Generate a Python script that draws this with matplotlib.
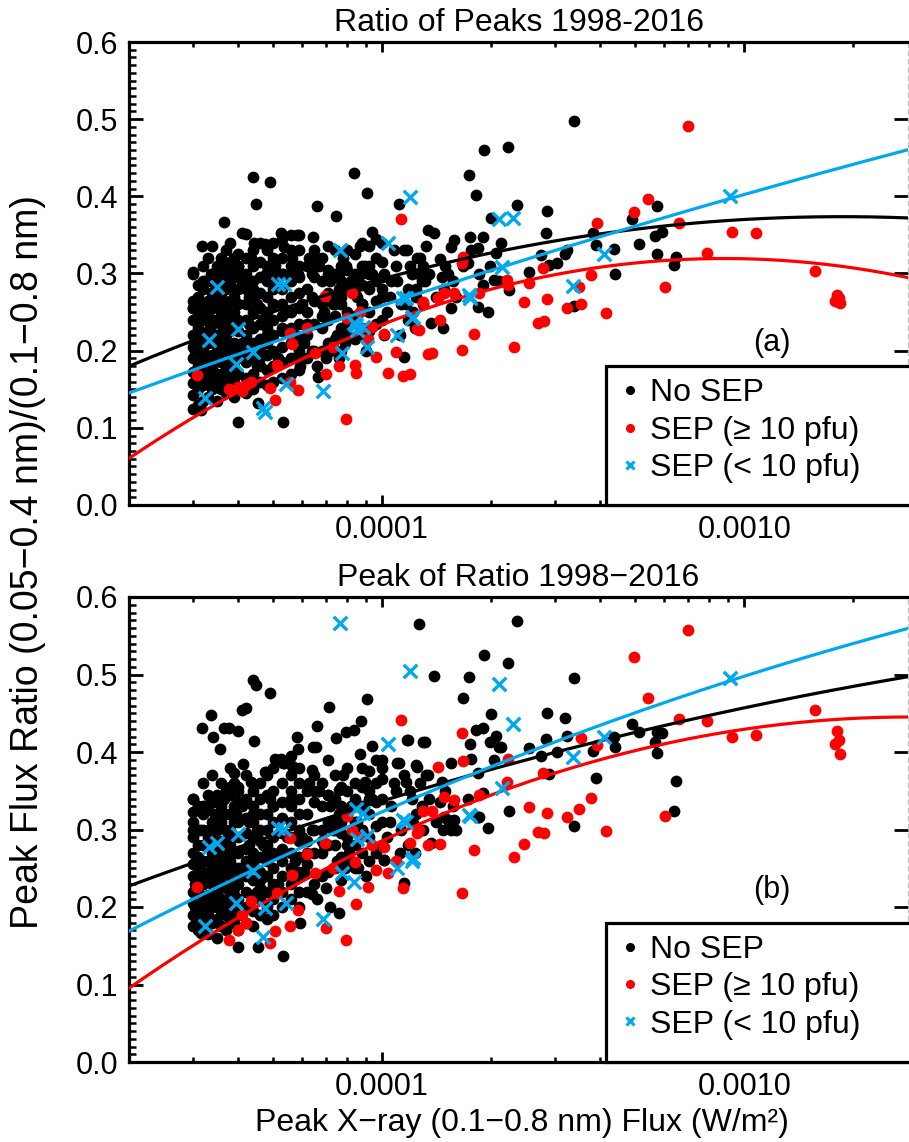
import numpy as np
import matplotlib
matplotlib.use("Agg")
import matplotlib.pyplot as plt
from matplotlib.lines import Line2D
from matplotlib.patches import Rectangle
from matplotlib.ticker import (FixedLocator, LogLocator, MultipleLocator,
                               FuncFormatter, NullFormatter)

plt.rcParams["font.family"] = ["Liberation Sans", "DejaVu Sans"]

BLACK = "black"
RED = "#ff0000"
BLUE = "#00a8f0"

# Peak X-ray flux in units of 1e-5 W/m^2, shared by both panels (same flares)
nosep_flux = [
    3.0, 3.0, 3.0, 3.0, 3.0, 3.0, 3.0, 3.0, 3.0, 3.0,
    3.1, 3.1, 3.1, 3.1, 3.1, 3.1, 3.1, 3.1, 3.1, 3.1,
    3.2, 3.2, 3.2, 3.2, 3.2, 3.2, 3.2, 3.2, 3.2, 3.2,
    3.3, 3.3, 3.3, 3.3, 3.3, 3.3, 3.3, 3.3, 3.3, 3.3,
    3.4, 3.4, 3.4, 3.4, 3.4, 3.4, 3.4, 3.4, 3.4, 3.4,
    3.5, 3.5, 3.5, 3.5, 3.5, 3.5, 3.5, 3.5, 3.5, 3.5,
    3.6, 3.6, 3.6, 3.6, 3.6, 3.6, 3.6, 3.6, 3.6, 3.6,
    3.7, 3.7, 3.7, 3.7, 3.7, 3.7, 3.7, 3.7, 3.7, 3.7,
    3.8, 3.8, 3.8, 3.8, 3.8, 3.8, 3.8, 3.8, 3.8, 3.8,
    3.9, 3.9, 3.9, 3.9, 3.9, 3.9, 3.9, 3.9, 3.9, 3.9,
    4.0, 4.0, 4.0, 4.0, 4.0, 4.0, 4.0, 4.0, 4.0, 4.0,
    4.2, 4.2, 4.2, 4.2, 4.2, 4.2, 4.2, 4.2, 4.2, 4.2,
    4.4, 4.4, 4.4, 4.4, 4.4, 4.4, 4.4, 4.4, 4.4, 4.4,
    4.6, 4.6, 4.6, 4.6, 4.6, 4.6, 4.6, 4.6, 4.6, 4.6,
    4.8, 4.8, 4.8, 4.8, 4.8, 4.8, 4.8, 4.8, 4.8, 4.8,
    5.0, 5.0, 5.0, 5.0, 5.0, 5.0, 5.0, 5.0, 5.0, 5.0,
    5.3, 5.3, 5.3, 5.3, 5.3, 5.3, 5.3, 5.3, 5.3, 5.3,
    5.6, 5.6, 5.6, 5.6, 5.6, 5.6, 5.6, 5.6, 5.6, 5.6,
    5.9, 5.9, 5.9, 5.9, 5.9, 5.9, 5.9, 5.9, 5.9, 5.9,
    6.2, 6.2, 6.2, 6.2, 6.2, 6.5, 6.5, 6.5, 6.5, 6.5,
    6.8, 6.8, 6.8, 6.8, 6.8, 7.1, 7.1, 7.1, 7.1, 7.1,
    7.4, 7.4, 7.4, 7.4, 7.4, 7.7, 7.7, 7.7, 7.7, 7.7,
    8.0, 8.0, 8.0, 8.0, 8.0, 8.4, 8.4, 8.4, 8.4, 8.4,
    8.8, 8.8, 8.8, 8.8, 8.8, 9.2, 9.2, 9.2, 9.2, 9.2,
    9.6, 9.6, 9.6, 9.6, 9.6, 10.0, 10.0, 10.0, 10.0, 10.0,
    6.0, 6.3, 6.6, 6.9, 7.2, 7.5, 7.8, 8.1, 8.5, 9.0,
    6.1, 6.4, 6.7, 7.0, 7.3, 7.6, 7.9, 8.2, 8.6, 9.4,
    10.3, 10.6, 10.9, 11.2, 11.5, 11.8, 12.1, 12.4, 12.7, 13.0,
    10.5, 10.8, 11.3, 11.9, 12.3, 12.9, 13.5, 14.1, 14.9, 15.7,
    3.05, 3.15, 3.25, 3.35, 3.45, 3.55, 3.65, 3.75, 3.85, 3.95,
    3.05, 3.15, 3.25, 3.35, 3.45, 3.55, 3.65, 3.75, 3.85, 3.95,
    4.1, 4.3, 4.5, 4.7, 4.9, 5.15, 5.45, 5.75, 4.1, 4.5,
    3.0, 3.1, 3.2, 3.3, 3.4, 3.5, 3.6, 3.7, 3.8, 3.9,
    4.0, 4.2, 4.4, 4.6, 4.8, 5.0, 5.3, 5.6, 5.9, 4.3,
    6.2, 6.5, 6.8, 7.1, 7.4, 7.7, 8.0, 8.4, 8.8, 9.2,
    33.8, 19.1, 22.2, 17.4, 18.2, 23.5, 28.6, 20.0, 57.3, 49.1,
    13.4, 13.9, 28.3, 38.1, 59.4, 56.5, 51.1, 43.6, 38.9, 57.5,
    64.6, 64.1, 31.9, 30.3, 27.4, 28.8, 25.4, 21.3, 20.6, 17.5,
    19.0, 15.8, 15.5, 14.4, 17.6, 18.4, 17.3, 15.2, 14.6, 19.0,
    20.4, 22.4, 18.4, 19.6, 15.5, 14.7, 13.6, 33.8, 11.5, 12.6,
    16.7, 43.9, 32.3, 11.8, 13.1, 12.4, 11.6, 12.2, 16.0, 11.1,
    10.1, 12.5, 13.0, 11.7, 14.8, 19.8, 21.0, 18.5, 13.2, 4.39,
    4.91, 4.47, 3.65, 8.38, 9.09, 6.62, 7.47, 4.11, 4.22, 3.19,
    5.24, 5.83, 6.46, 4.44, 4.76, 5.37, 9.38, 8.70, 7.14, 3.36,
    3.41, 3.56, 3.77, 3.99, 5.87, 6.58, 7.96, 8.75, 10.0, 11.0,
    5.07, 5.34, 5.65, 6.42, 4.79, 4.14, 3.91, 4.33, 8.98, 7.62,
    6.67, 3.01, 3.99, 5.31, 4.53, 3.17, 5.94, 7.62, 7.19, 6.42,
    10.1, 3.01,
]
# (a) ratio of peaks
nosep_ratio_peaks = [
    .125, .142, .158, .172, .19, .205, .22, .24, .255, .30,
    .13, .15, .165, .18, .198, .215, .23, .25, .27, .285,
    .135, .155, .17, .185, .20, .22, .24, .26, .28, .31,
    .14, .16, .175, .19, .21, .225, .245, .265, .29, .32,
    .15, .165, .18, .195, .215, .235, .255, .275, .30, .335,
    .135, .155, .17, .19, .205, .22, .24, .26, .28, .31,
    .15, .17, .185, .20, .215, .235, .25, .27, .29, .32,
    .145, .16, .18, .20, .22, .24, .26, .28, .30, .33,
    .15, .165, .185, .205, .225, .245, .265, .285, .305, .34,
    .14, .16, .175, .195, .21, .23, .25, .27, .295, .32,
    .15, .17, .19, .205, .225, .24, .26, .28, .30, .325,
    .145, .165, .185, .20, .22, .24, .26, .28, .30, .32,
    .15, .17, .19, .21, .23, .25, .27, .29, .31, .33,
    .16, .18, .20, .215, .235, .255, .275, .295, .315, .34,
    .155, .175, .195, .21, .23, .25, .27, .29, .31, .33,
    .16, .18, .20, .22, .24, .26, .28, .30, .32, .34,
    .165, .185, .205, .225, .245, .26, .28, .30, .32, .345,
    .17, .19, .21, .23, .25, .27, .29, .31, .33, .35,
    .175, .195, .215, .235, .255, .275, .295, .31, .33, .35,
    .19, .22, .25, .28, .31, .20, .235, .265, .295, .33,
    .20, .23, .26, .29, .32, .21, .24, .275, .305, .335,
    .215, .245, .27, .30, .33, .20, .23, .26, .29, .31,
    .22, .25, .28, .305, .33, .215, .245, .275, .30, .325,
    .23, .26, .285, .31, .34, .225, .25, .28, .31, .335,
    .235, .265, .29, .32, .345, .24, .27, .295, .315, .34,
    .26, .32, .18, .25, .29, .22, .32, .24, .27, .20,
    .21, .27, .31, .19, .26, .28, .21, .29, .22, .30,
    .25, .29, .31, .22, .33, .24, .30, .28, .32, .26,
    .27, .33, .26, .31, .23, .29, .30, .27, .31, .29,
    .20, .26, .18, .23, .28, .16, .21, .25, .19, .28,
    .16, .22, .29, .17, .24, .27, .30, .17, .23, .20,
    .21, .27, .18, .24, .30, .19, .25, .22, .29, .26,
    .265, .205, .29, .25, .175, .30, .205, .235, .315, .185,
    .31, .21, .28, .19, .22, .29, .23, .30, .20, .235,
    .235, .31, .245, .30, .26, .27, .235, .29, .26, .30,
    .498, .46, .464, .428, .402, .389, .381, .372, .387, .371,
    .356, .352, .352, .352, .354, .349, .338, .332, .337, .325,
    .321, .311, .325, .314, .324, .311, .302, .34, .326, .347,
    .347, .343, .334, .319, .33, .333, .313, .30, .296, .285,
    .291, .279, .257, .25, .255, .229, .236, .258, .192, .30,
    .31, .30, .33, .28, .29, .27, .26, .25, .27, .39,
    .30, .32, .31, .33, .28, .31, .29, .30, .335, .425,
    .419, .39, .367, .43, .404, .387, .374, .352, .351, .336,
    .352, .35, .347, .34, .338, .334, .354, .335, .30, .30,
    .29, .31, .29, .31, .30, .32, .31, .30, .28, .29,
    .31, .30, .32, .30, .30, .30, .32, .32, .31, .30,
    .166, .255, .107, .107, .132, .123, .18, .19, .20, .20,
    .22, .302,
]
# (b) peak of ratio
nosep_peak_ratio = [
    .175, .19, .205, .22, .24, .255, .27, .29, .31, .34,
    .17, .185, .20, .22, .235, .25, .265, .28, .30, .33,
    .18, .195, .21, .23, .245, .26, .28, .30, .32, .36,
    .165, .19, .20, .215, .24, .26, .28, .30, .325, .345,
    .18, .20, .215, .23, .25, .27, .29, .31, .335, .37,
    .16, .185, .20, .22, .24, .255, .275, .30, .32, .345,
    .175, .195, .21, .23, .245, .265, .285, .31, .33, .36,
    .17, .19, .205, .225, .245, .26, .28, .30, .32, .35,
    .185, .20, .22, .24, .26, .28, .30, .32, .345, .38,
    .18, .195, .215, .235, .25, .27, .29, .31, .33, .36,
    .17, .19, .21, .23, .25, .27, .29, .31, .335, .355,
    .18, .20, .22, .24, .26, .275, .295, .315, .34, .37,
    .175, .195, .215, .235, .255, .27, .29, .31, .33, .35,
    .19, .21, .225, .245, .265, .285, .30, .32, .34, .36,
    .185, .20, .22, .24, .26, .28, .30, .32, .345, .37,
    .19, .21, .23, .25, .27, .29, .31, .33, .35, .38,
    .20, .22, .24, .26, .275, .295, .315, .335, .36, .39,
    .21, .23, .25, .27, .29, .31, .33, .35, .37, .395,
    .20, .22, .245, .265, .285, .30, .32, .34, .36, .38,
    .22, .255, .285, .32, .35, .23, .27, .30, .335, .37,
    .24, .27, .30, .33, .36, .245, .28, .31, .345, .39,
    .25, .28, .31, .34, .37, .235, .265, .295, .33, .355,
    .26, .29, .32, .35, .38, .25, .28, .31, .34, .36,
    .27, .30, .33, .355, .38, .26, .29, .32, .35, .375,
    .27, .305, .335, .36, .39, .28, .31, .34, .365, .39,
    .29, .36, .21, .28, .33, .26, .37, .27, .31, .24,
    .245, .30, .35, .225, .30, .32, .25, .33, .25, .34,
    .29, .33, .35, .27, .37, .28, .34, .32, .36, .30,
    .31, .36, .30, .35, .27, .33, .34, .31, .35, .33,
    .23, .30, .21, .26, .32, .20, .25, .29, .23, .32,
    .20, .26, .33, .20, .28, .31, .34, .21, .27, .24,
    .25, .31, .22, .28, .34, .23, .29, .26, .33, .30,
    .30, .245, .33, .29, .205, .335, .24, .27, .355, .225,
    .35, .25, .32, .235, .27, .33, .27, .34, .24, .28,
    .27, .35, .285, .345, .30, .31, .28, .33, .30, .34,
    .496, .525, .515, .497, .428, .569, .45, .449, .426, .436,
    .37, .498, .417, .401, .425, .413, .426, .419, .366, .399,
    .363, .324, .444, .40, .395, .372, .405, .406, .421, .41,
    .431, .312, .386, .335, .391, .373, .339, .312, .361, .347,
    .39, .324, .316, .302, .299, .299, .283, .305, .231, .565,
    .47, .406, .421, .415, .413, .383, .361, .308, .299, .386,
    .261, .381, .413, .415, .316, .413, .406, .316, .37, .493,
    .476, .486, .431, .428, .468, .434, .418, .454, .457, .431,
    .391, .419, .406, .414, .374, .386, .408, .397, .458, .448,
    .419, .404, .431, .427, .404, .406, .426, .44, .379, .386,
    .391, .386, .382, .377, .374, .385, .373, .361, .361, .351,
    .35, .323, .148, .137, .148, .166, .179, .192, .20, .217,
    .261, .34,
]

# SEP events with >= 10 pfu
sep_flux = [
    11.3, 6.97, 8.26, 13.0, 3.09, 3.77, 3.99, 4.20, 4.33, 4.11,
    4.89, 5.07, 5.14, 5.58, 5.87, 5.65, 5.55, 6.21, 6.53, 7.62,
    8.43, 8.48, 8.01, 8.70, 9.38, 10.1, 9.62, 10.9, 10.4, 11.4,
    7.96, 12.5, 11.9, 13.4, 69.7, 54.1, 49.5, 39.1, 65.8, 92.7,
    108, 79.1, 157, 180, 182, 178, 184, 60.2, 41.4, 35.3,
    34.9, 37.7, 27.8, 25.4, 28.6, 24.6, 26.9, 27.9, 23.1, 17.9,
    16.6, 13.7, 22.1, 22.2, 16.7, 16.6, 14.8, 15.8, 14.3, 12.6,
    18.5, 32.3, 14.4, 7.33, 9.15, 7.01,
]
sep_ratio_peaks = [
    .371, .271, .275, .263, .168, .150, .153, .155, .159, .148,
    .152, .136, .181, .223, .149, .209, .16, .229, .197, .180,
    .181, .171, .242, .25, .231, .222, .192, .198, .171, .167,
    .111, .228, .17, .196, .491, .397, .380, .365, .365, .354,
    .352, .326, .303, .272, .268, .265, .262, .283, .249, .26,
    .283, .298, .307, .288, .267, .263, .236, .238, .205, .222,
    .201, .197, .291, .285, .321, .313, .275, .275, .268, .227,
    .275, .255, .24, .205, .215, .17,
]
sep_peak_ratio = [
    .441, .283, .299, .324, .226, .157, .17, .179, .208, .19,
    .153, .169, .218, .289, .196, .241, .175, .268, .244, .221,
    .258, .204, .317, .29, .28, .277, .248, .26, .244, .225,
    .157, .295, .283, .28, .557, .470, .523, .409, .442, .419,
    .422, .44, .454, .427, .415, .41, .397, .317, .298, .418,
    .326, .341, .373, .329, .321, .281, .297, .295, .264, .274,
    .218, .324, .361, .391, .388, .424, .342, .338, .381, .30,
    .344, .316, .281, .25, .226, .173,
]

# SEP events with < 10 pfu
weak_flux = [
    11.9, 7.66, 10.4, 3.49, 5.17, 5.37, 5.41, 11.4, 12.2, 4.01,
    3.32, 4.39, 3.96, 8.38, 8.53, 8.86, 8.45, 11.0, 9.09, 7.76,
    6.88, 3.24, 4.70, 4.76, 21.0, 23.0, 91.4, 41.1, 33.6, 21.4,
    17.4, 17.5, 12.1, 11.6,
]
weak_ratio_peaks = [
    .399, .330, .340, .283, .287, .286, .157, .268, .244, .228,
    .214, .198, .183, .236, .227, .231, .233, .22, .205, .197,
    .148, .139, .126, .121, .371, .372, .400, .325, .284, .308,
    .272, .268, .242, .268,
]
weak_peak_ratio = [
    .505, .566, .410, .282, .302, .301, .205, .312, .263, .294,
    .277, .246, .205, .232, .288, .321, .326, .25, .292, .244,
    .185, .175, .161, .199, .488, .436, .496, .419, .394, .354,
    .319, .317, .26, .31,
]

# quadratic fits in log10(flux / 1e-4 W/m^2): [c2, c1, c0]
fit_peaks = {"nosep": [-0.050, 0.127, 0.293],
             "sep": [-0.0959, 0.1811, 0.2339],
             "weak": [-0.0107, 0.1546, 0.2585]}
fit_ratio = {"nosep": [-0.0216, 0.1418, 0.3368],
             "sep": [-0.0752, 0.2193, 0.2853],
             "weak": [-0.0266, 0.2016, 0.3228]}

XMIN, XMAX = 2.0e-5, 2.83e-3
W, H = 909, 1142


def style_axis(ax):
    ax.set_xscale("log")
    ax.set_xlim(XMIN, XMAX)
    ax.set_ylim(0, 0.6)
    ax.xaxis.set_major_locator(FixedLocator([1e-4, 1e-3]))
    ax.xaxis.set_minor_locator(LogLocator(base=10, subs=np.arange(2, 10), numticks=20))
    ax.xaxis.set_major_formatter(FuncFormatter(lambda v, p: f"{v:.4f}"))
    ax.xaxis.set_minor_formatter(NullFormatter())
    ax.yaxis.set_major_locator(MultipleLocator(0.1))
    ax.yaxis.set_minor_locator(MultipleLocator(0.01))
    ax.yaxis.set_major_formatter(FuncFormatter(lambda v, p: f"{v:.1f}"))
    ax.tick_params(axis="x", which="major", direction="in", length=7, width=2,
                   top=True, pad=7, labelsize=22)
    ax.tick_params(axis="x", which="minor", direction="in", length=3.5, width=1.8, top=True)
    ax.tick_params(axis="y", which="major", direction="in", length=10, width=2,
                   right=True, pad=8, labelsize=22)
    ax.tick_params(axis="y", which="minor", direction="in", length=5, width=1.8, right=False)
    for side in ["left", "bottom", "top"]:
        ax.spines[side].set_linewidth(2.3)
    ax.spines["right"].set_linewidth(1)
    ax.spines["right"].set_color("#c0c0c0")
    ax.spines["right"].set_linestyle((0, (3, 3)))


def draw_panel(ax, y_nosep, y_sep, y_weak, fits, title, tag, tag_y):
    ax.scatter(np.array(nosep_flux) * 1e-5, y_nosep, s=72, c=BLACK, linewidths=0, zorder=2)
    ax.scatter(np.array(sep_flux) * 1e-5, y_sep, s=72, c=RED, linewidths=0, zorder=3)
    xx = np.logspace(np.log10(XMIN), np.log10(XMAX), 300)
    uu = np.log10(xx) + 4
    for key, color in [("nosep", BLACK), ("sep", RED), ("weak", BLUE)]:
        ax.plot(xx, np.polyval(fits[key], uu), color=color, lw=2.3, zorder=4)
    ax.scatter(np.array(weak_flux) * 1e-5, y_weak, s=95, marker="x", c=BLUE,
               linewidths=2.4, zorder=5)
    style_axis(ax)
    ax.set_title(title, fontsize=23, pad=8)
    ax.text(0.825, tag_y, tag, transform=ax.transAxes, fontsize=22,
            ha="center", va="center")

    ax.add_patch(Rectangle((0.612, 0), 0.5, 0.30, transform=ax.transAxes,
                           facecolor="white", edgecolor="black", lw=2.3,
                           clip_on=False, zorder=6))
    handles = [
        Line2D([], [], ls="none", marker="o", ms=5.5, color=BLACK),
        Line2D([], [], ls="none", marker="o", ms=5.5, color=RED),
        Line2D([], [], ls="none", marker="x", ms=6, mew=2.2, color=BLUE),
    ]
    labels = ["No SEP", "SEP (\u2265 10 pfu)", "SEP (< 10 pfu)"]
    leg = ax.legend(handles, labels, loc="upper left", bbox_to_anchor=(0.612, 0.294),
                    frameon=False, fontsize=23, handlelength=0.9,
                    handletextpad=0.2, borderpad=0.3, borderaxespad=0,
                    labelspacing=0.23)
    leg.set_zorder(7)


fig = plt.figure(figsize=(W / 100, H / 100), dpi=100)
ax1 = fig.add_axes([129 / W, 1 - 505 / H, 779 / W, 463 / H])
ax2 = fig.add_axes([129 / W, 1 - 1062 / H, 779 / W, 465 / H])

draw_panel(ax1, nosep_ratio_peaks, sep_ratio_peaks, weak_ratio_peaks, fit_peaks,
           "Ratio of Peaks 1998-2016", "(a)", 0.35)
draw_panel(ax2, nosep_peak_ratio, sep_peak_ratio, weak_peak_ratio, fit_ratio,
           "Peak of Ratio 1998\u22122016", "(b)", 0.37)

fig.text(28 / W, 1 - 562 / H, "Peak Flux Ratio (0.05\u22120.4 nm)/(0.1\u22120.8 nm)",
         rotation=90, fontsize=27, ha="center", va="center")
fig.text(522 / W, 1 - 1123 / H, "Peak X\u2212ray (0.1\u22120.8 nm) Flux (W/m\u00b2)",
         fontsize=23, ha="center", va="center")

fig.savefig("out.png", dpi=100)
